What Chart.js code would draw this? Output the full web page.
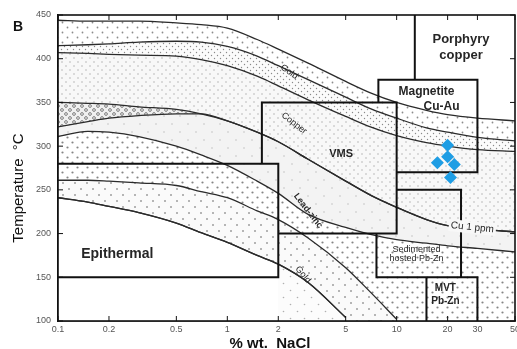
<!DOCTYPE html>
<html>
<head>
<meta charset="utf-8">
<script src="https://cdn.jsdelivr.net/npm/chart.js@4.4.1/dist/chart.umd.min.js"></script>
<style>
  html, body { margin: 0; padding: 0; background: #fff; }
  #wrap { width: 517px; height: 349px; }
</style>
</head>
<body>
<div id="wrap"><canvas id="chart" width="517" height="349"></canvas></div>
<script>
// salinity grid shared by the solubility curves (% wt. NaCl)
const salinity = [0.1, 0.15, 0.2, 0.3, 0.5, 0.7, 1, 1.5, 2, 3, 5, 7, 10, 15, 20, 30, 50];

// solubility curves, temperature (°C)
const goldTop     = [444, 443, 443, 443, 441, 439, 435, 422, 411, 395, 374, 361, 350, 341, 336, 332, 329];
const goldBase    = [415, 416, 417, 419, 420, 419, 414, 403, 392, 376, 356, 343, 332, 321, 316, 310, 306];
const goldInner   = [407, 406, 405, 404, 403, 399, 392, 380, 369, 353, 334, 322, 312, 304, 300, 296, 294];
const copperTop   = [350, 349, 348, 345, 342, 337, 329, 316, 305, 285, 260, 244, 230, 216, 209, 205, 202];
const copperBase  = [322, 328, 332, 335, 337, 337, 329, 316, 305, 285, 260, 244, 230, 216, 209, 205, 202];
const leadTop     = [311, 317, 316, 311, 300, 290, 278, 260, 246, 222, 207, 199, 193, 189, 186, 183, 179];
const goldLowTop  = [261, 261, 260, 258, 255, 248, 241, 226, 216, 195, 161, 133, 102, null, null, null, null];
const goldLowBase = [241, 236, 231, 224, 212, 201, 190, 175, 165, 144, 104, null, null, null, null, null, null];

// fluid inclusions (blue diamonds)
const inclSalinity = [20, 20, 17.4, 21.9, 20.8];
const inclTemp = [301, 288, 281, 279, 264];

// deposit fields, [salinity, temperature] corners
const epithermalBox = [[0.1, 280], [2, 280], [2, 150], [0.1, 150]];
const vmsBox = [[1.6, 280], [1.6, 350], [10, 350], [10, 200], [2, 200]];
const magnetiteBox = [[7.8, 350], [7.8, 376], [30, 376], [30, 270], [10, 270]];
const porphyryEdge = [[12.8, 376], [12.8, 450]];
const sedimentedBox = [[7.6, 200], [7.6, 150], [30, 150], [30, 100]];
const sedimentedTop = [[10, 250], [24, 250], [24, 150]];
const mvtEdge = [[15, 150], [15, 100]];

const naclTicks = [0.1, 0.2, 0.5, 1, 2, 5, 10, 20, 30, 50];
const tempTicks = [100, 150, 200, 250, 300, 350, 400, 450];

// text placed in data units
const fieldLabels = [
  { text: "Porphyry", x: 24, y: 422, size: 13, bold: true },
  { text: "copper", x: 24, y: 404, size: 13, bold: true },
  { text: "Magnetite", x: 15, y: 362, size: 12, bold: true },
  { text: "Cu-Au", x: 18.4, y: 345, size: 12, bold: true },
  { text: "VMS", x: 4.7, y: 291, size: 11, bold: true },
  { text: "Epithermal", x: 0.224, y: 176, size: 14, bold: true },
  { text: "Lead-zinc", x: 3.0, y: 226, size: 9, bold: true, angle: 52 },
  { text: "Gold", x: 2.32, y: 385, size: 9, angle: 35 },
  { text: "Copper", x: 2.48, y: 326, size: 9, angle: 38 },
  { text: "Gold", x: 2.8, y: 153, size: 9, angle: 50 },
  { text: "Cu 1 ppm", x: 28, y: 207, size: 10, angle: 6, box: true },
  { text: "Sedimented", x: 13.1, y: 182, size: 9 },
  { text: "hosted Pb-Zn", x: 13.1, y: 171, size: 9 },
  { text: "MVT", x: 19.4, y: 137, size: 10, bold: true },
  { text: "Pb-Zn", x: 19.4, y: 123, size: 10, bold: true },
];

const FONT = '"Liberation Sans", Arial, sans-serif';

// stippled textures like the scanned figure
function dots(step, r, color, bg, ring) {
  const c = document.createElement("canvas");
  c.width = c.height = step * 2;
  const g = c.getContext("2d");
  g.fillStyle = bg;
  g.fillRect(0, 0, c.width, c.height);
  for (const [i, j] of [[0.5, 0.5], [1.5, 1.5]]) {
    g.beginPath();
    g.arc(i * step, j * step, r, 0, Math.PI * 2);
    if (ring) {
      g.strokeStyle = color;
      g.lineWidth = 0.8;
      g.stroke();
    } else {
      g.fillStyle = color;
      g.fill();
    }
  }
  return g.createPattern(c, "repeat");
}

const dotsGold = dots(5, 0.9, "#8c8c8c", "#ffffff");
const dotsDense = dots(3, 0.7, "#8a8a8a", "#fbfbfb");
const dotsFine = dots(4, 0.7, "#a6a6a6", "#f8f8f8");
const dotsCoarse = dots(4, 1.4, "#666666", "#f0f0f0", true);
const dotsPale = dots(8, 0.7, "#b8b8b8", "#f3f3f3");
const dotsMed = dots(5, 1.1, "#858585", "#ffffff");
const dotsLight = dots(6, 1.0, "#9e9e9e", "#fafafa");
const dotsBottom = dots(7, 0.8, "#b0b0b0", "#fcfcfc");

function curvePoints(temps) {
  return salinity.map((s, i) => ({ x: s, y: temps[i] }));
}
function boxPoints(corners) {
  return corners.map(([x, y]) => ({ x, y }));
}

// layers in painting order: each curve fills down to 100 °C, the next one covers it
const layers = [];
const bands = [
  [goldTop, dotsGold],
  [goldBase, dotsDense],
  [goldInner, dotsFine],
  [copperTop, dotsCoarse],
  [copperBase, dotsPale],
  [leadTop, dotsMed],
  [goldLowTop, dotsLight],
  [goldLowBase, dotsBottom],
];
for (const [temps, pattern] of bands) {
  layers.push({
    data: curvePoints(temps),
    borderColor: "#2b2b2b",
    borderWidth: 1.3,
    backgroundColor: pattern,
    fill: { value: 100 },
    cubicInterpolationMode: "monotone",
    pointRadius: 0,
  });
}

// epithermal field is blank below the lower gold curve
const blank = curvePoints(goldLowBase).filter((p) => p.x <= 2);
blank.push({ x: 2, y: 100 });
layers.push({
  data: blank,
  borderColor: "rgba(0,0,0,0)",
  borderWidth: 0,
  backgroundColor: "#ffffff",
  fill: { value: 100 },
  cubicInterpolationMode: "monotone",
  pointRadius: 0,
});

// redraw the lower gold line over the blank area
layers.push({
  data: curvePoints(goldLowBase),
  borderColor: "#2b2b2b",
  borderWidth: 1.3,
  fill: false,
  cubicInterpolationMode: "monotone",
  pointRadius: 0,
});

for (const box of [epithermalBox, vmsBox, magnetiteBox, porphyryEdge, sedimentedBox, sedimentedTop, mvtEdge]) {
  layers.push({
    data: boxPoints(box),
    borderColor: "#111111",
    borderWidth: 2,
    fill: false,
    tension: 0,
    pointRadius: 0,
  });
}

layers.push({
  data: inclSalinity.map((s, i) => ({ x: s, y: inclTemp[i] })),
  showLine: false,
  pointStyle: "rectRot",
  pointRadius: 6.5,
  backgroundColor: "#1e9de4",
  borderColor: "#1e9de4",
  borderWidth: 0,
});

layers.forEach((d, i) => { d.order = layers.length - i; });

const overlay = {
  id: "overlay",
  afterDatasetsDraw(chart) {
    const { ctx, chartArea: a, scales } = chart;
    const sx = scales.x, sy = scales.y;
    ctx.save();

    // frame with inward ticks
    ctx.strokeStyle = "#111";
    ctx.lineWidth = 1.6;
    ctx.strokeRect(a.left, a.top, a.right - a.left, a.bottom - a.top);
    ctx.lineWidth = 1;
    ctx.beginPath();
    for (const v of naclTicks) {
      const px = sx.getPixelForValue(v);
      ctx.moveTo(px, a.bottom);
      ctx.lineTo(px, a.bottom - 5);
      ctx.moveTo(px, a.top);
      ctx.lineTo(px, a.top + 5);
    }
    for (const v of tempTicks) {
      const py = sy.getPixelForValue(v);
      ctx.moveTo(a.left, py);
      ctx.lineTo(a.left + 5, py);
      ctx.moveTo(a.right, py);
      ctx.lineTo(a.right - 5, py);
    }
    ctx.stroke();

    // field and curve labels
    for (const l of fieldLabels) {
      ctx.save();
      ctx.translate(sx.getPixelForValue(l.x), sy.getPixelForValue(l.y));
      ctx.rotate(((l.angle || 0) * Math.PI) / 180);
      ctx.font = (l.bold ? "bold " : "") + l.size + "px " + FONT;
      ctx.textAlign = "center";
      ctx.textBaseline = "middle";
      if (l.box) {
        const w = ctx.measureText(l.text).width;
        ctx.fillStyle = "#f8f8f8";
        ctx.fillRect(-w / 2 - 2, -l.size / 2 - 1, w + 4, l.size + 2);
      }
      ctx.fillStyle = "#262626";
      ctx.fillText(l.text, 0, 0);
      ctx.restore();
    }

    // panel letter and axis titles
    ctx.fillStyle = "#111";
    ctx.textAlign = "center";
    ctx.textBaseline = "middle";
    ctx.font = "bold 14px " + FONT;
    ctx.fillText("B", 18, 27);
    ctx.font = "bold 15px " + FONT;
    ctx.fillText("% wt.  NaCl", 270, 344);
    ctx.save();
    ctx.translate(19, 188);
    ctx.rotate(-Math.PI / 2);
    ctx.font = "15px " + FONT;
    ctx.fillText("Temperature  °C", 0, 0);
    ctx.restore();

    ctx.restore();
  },
};

new Chart(document.getElementById("chart"), {
  type: "line",
  data: { datasets: layers },
  plugins: [overlay],
  options: {
    responsive: false,
    animation: false,
    devicePixelRatio: 1,
    layout: { autoPadding: false, padding: { top: 15, right: 2, left: 0, bottom: 0 } },
    plugins: {
      legend: { display: false },
      tooltip: { enabled: false },
      filler: { drawTime: "beforeDatasetsDraw" },
    },
    scales: {
      x: {
        type: "logarithmic",
        min: 0.1,
        max: 50,
        afterBuildTicks: (scale) => { scale.ticks = naclTicks.map((v) => ({ value: v })); },
        afterFit: (scale) => {
          scale.height = 28;
          scale.paddingLeft = 0;
          scale.paddingRight = 0;
        },
        grid: { display: false, drawTicks: false },
        border: { display: true, color: "#111", width: 1.5 },
        ticks: {
          autoSkip: false,
          maxRotation: 0,
          padding: 3,
          color: "#555",
          font: { family: FONT, size: 9 },
          callback: (v) => String(v),
        },
      },
      y: {
        type: "linear",
        min: 100,
        max: 450,
        afterBuildTicks: (scale) => { scale.ticks = tempTicks.map((v) => ({ value: v })); },
        afterFit: (scale) => { scale.width = 58; },
        grid: { display: false, drawTicks: false },
        border: { display: true, color: "#111", width: 1.5 },
        ticks: {
          padding: 7,
          color: "#555",
          font: { family: FONT, size: 9 },
        },
      },
    },
  },
});
</script>
</body>
</html>
